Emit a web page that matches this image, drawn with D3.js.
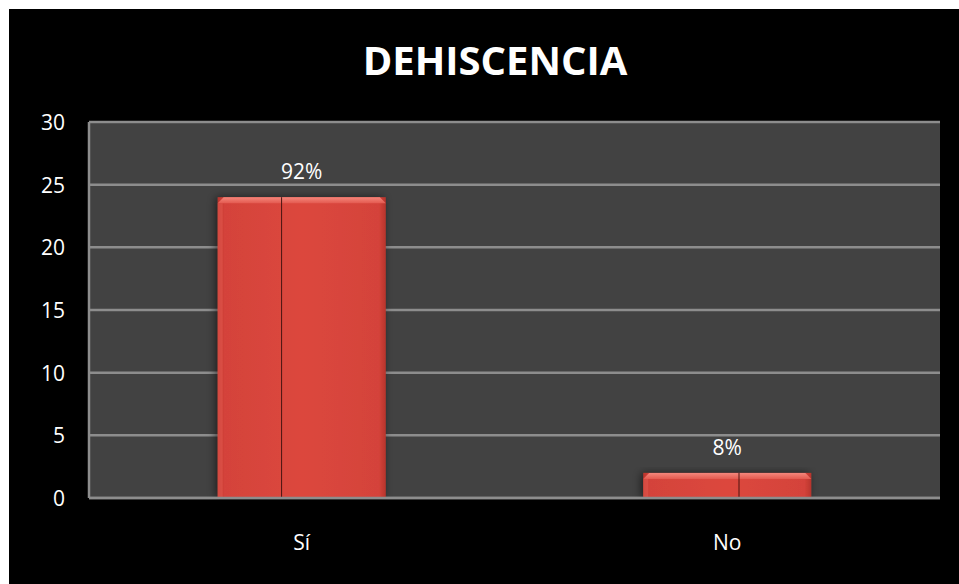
<!DOCTYPE html>
<html>
<head>
<meta charset="utf-8">
<script src="https://cdn.jsdelivr.net/npm/d3@7"></script>
<style>
  html, body { margin: 0; padding: 0; background: #ffffff; }
  svg { display: block; }
  text { font-family: "Open Sans", "DejaVu Sans", sans-serif; fill: #ffffff; }
</style>
</head>
<body>
<svg id="chart" width="959" height="584"></svg>
<script>
// Chart data
const title = "DEHISCENCIA";
const categories = ["Sí", "No"];
const counts = [24, 2];
const percentLabels = ["92%", "8%"];
const yTicks = [0, 5, 10, 15, 20, 25, 30];

// Position of the thin seam drawn inside each bar (fraction of bar width)
const seamFraction = [0.38, 0.57];

const W = 959, H = 584;
const frame = { x: 9, y: 9 };
const plot = { left: 89, right: 940, top: 122, bottom: 498 };

const svg = d3.select("#chart");
const defs = svg.append("defs");

// Bar body: darker toward the sides
const body = defs.append("linearGradient").attr("id", "barBody")
  .attr("x1", "0").attr("x2", "1").attr("y1", "0").attr("y2", "0");
[[0, "#b8342c"], [0.04, "#d4433a"], [0.5, "#dc473e"], [0.96, "#d4433a"], [1, "#b8342c"]]
  .forEach(([o, c]) => body.append("stop").attr("offset", o).attr("stop-color", c));

// Bevelled top strip
const bevel = defs.append("linearGradient").attr("id", "barBevel")
  .attr("x1", "0").attr("x2", "0").attr("y1", "0").attr("y2", "1");
[[0, "#f4877c"], [1, "#e45a50"]]
  .forEach(([o, c]) => bevel.append("stop").attr("offset", o).attr("stop-color", c));

// Soft shadow around each bar
const shadow = defs.append("filter").attr("id", "barShadow")
  .attr("x", "-20%").attr("y", "-20%").attr("width", "140%").attr("height", "140%");
shadow.append("feDropShadow").attr("dx", -2).attr("dy", 0).attr("stdDeviation", 4)
  .attr("flood-color", "#000").attr("flood-opacity", 0.55);

// Black chart frame on white page
svg.append("rect").attr("x", frame.x).attr("y", frame.y)
  .attr("width", W - frame.x).attr("height", H - frame.y).attr("fill", "#000");

// Title
svg.append("text").attr("x", 495).attr("y", 75)
  .attr("text-anchor", "middle").attr("font-weight", "bold")
  .attr("font-size", 40).text(title);

const x = d3.scaleBand().domain(categories)
  .range([plot.left, plot.right]).paddingInner(0.605).paddingOuter(0.3025);
const y = d3.scaleLinear().domain([0, 30]).range([plot.bottom, plot.top]);

// Plot area
svg.append("rect").attr("x", plot.left).attr("y", plot.top)
  .attr("width", plot.right - plot.left).attr("height", plot.bottom - plot.top)
  .attr("fill", "#424242");

// Horizontal gridlines
svg.append("g").selectAll("line").data(yTicks).join("line")
  .attr("x1", plot.left).attr("x2", plot.right)
  .attr("y1", d => y(d)).attr("y2", d => y(d))
  .attr("stroke", "#8d8d8d").attr("stroke-width", 2.5);

// Left axis line
svg.append("line").attr("x1", plot.left).attr("x2", plot.left)
  .attr("y1", plot.top).attr("y2", plot.bottom)
  .attr("stroke", "#8d8d8d").attr("stroke-width", 2.5);

// Y axis labels
const yAxis = d3.axisLeft(y).tickValues(yTicks).tickSize(0).tickPadding(0);
const yg = svg.append("g").attr("transform", `translate(${plot.left - 24},0)`).call(yAxis);
yg.select(".domain").remove();
yg.selectAll("text").attr("font-size", 21).attr("fill", "#fff")
  .attr("font-family", '"Open Sans", sans-serif').attr("dy", "0.36em");

// Bars
const bars = svg.append("g").selectAll("g").data(categories).join("g");
bars.append("rect")
  .attr("x", d => x(d)).attr("width", x.bandwidth())
  .attr("y", (d, i) => y(counts[i]))
  .attr("height", (d, i) => y(0) - y(counts[i]))
  .attr("fill", "url(#barBody)").attr("filter", "url(#barShadow)");
// Top bevel
bars.append("path").attr("fill", "url(#barBevel)").attr("d", (d, i) => {
  const x0 = x(d), x1 = x(d) + x.bandwidth(), t = y(counts[i]), b = 6;
  return `M${x0},${t + b}L${x0 + b},${t}L${x1 - b},${t}L${x1},${t + b}Z`;
});
// Side bevels
bars.append("path").attr("fill", "#e5584e").attr("opacity", 0.6).attr("d", (d, i) => {
  const x0 = x(d), t = y(counts[i]), b = 5, bot = y(0);
  return `M${x0},${t + 6}L${x0 + b},${t + 6}L${x0 + b},${bot}L${x0},${bot}Z`;
});
// Seam
bars.append("line")
  .attr("x1", (d, i) => x(d) + x.bandwidth() * seamFraction[i])
  .attr("x2", (d, i) => x(d) + x.bandwidth() * seamFraction[i])
  .attr("y1", (d, i) => y(counts[i])).attr("y2", y(0))
  .attr("stroke", "#4a1511").attr("stroke-width", 1);

// Bottom axis line drawn over the bars
svg.append("line").attr("x1", plot.left).attr("x2", plot.right)
  .attr("y1", y(0)).attr("y2", y(0))
  .attr("stroke", "#8d8d8d").attr("stroke-width", 2.5);

// Percentage labels
svg.append("g").selectAll("text").data(categories).join("text")
  .attr("x", d => x(d) + x.bandwidth() / 2)
  .attr("y", (d, i) => y(counts[i]) - 18)
  .attr("text-anchor", "middle").attr("font-size", 21)
  .text((d, i) => percentLabels[i]);

// Category labels
svg.append("g").selectAll("text").data(categories).join("text")
  .attr("x", d => x(d) + x.bandwidth() / 2)
  .attr("y", 550)
  .attr("text-anchor", "middle").attr("font-size", 21)
  .text(d => d);
</script>
</body>
</html>
